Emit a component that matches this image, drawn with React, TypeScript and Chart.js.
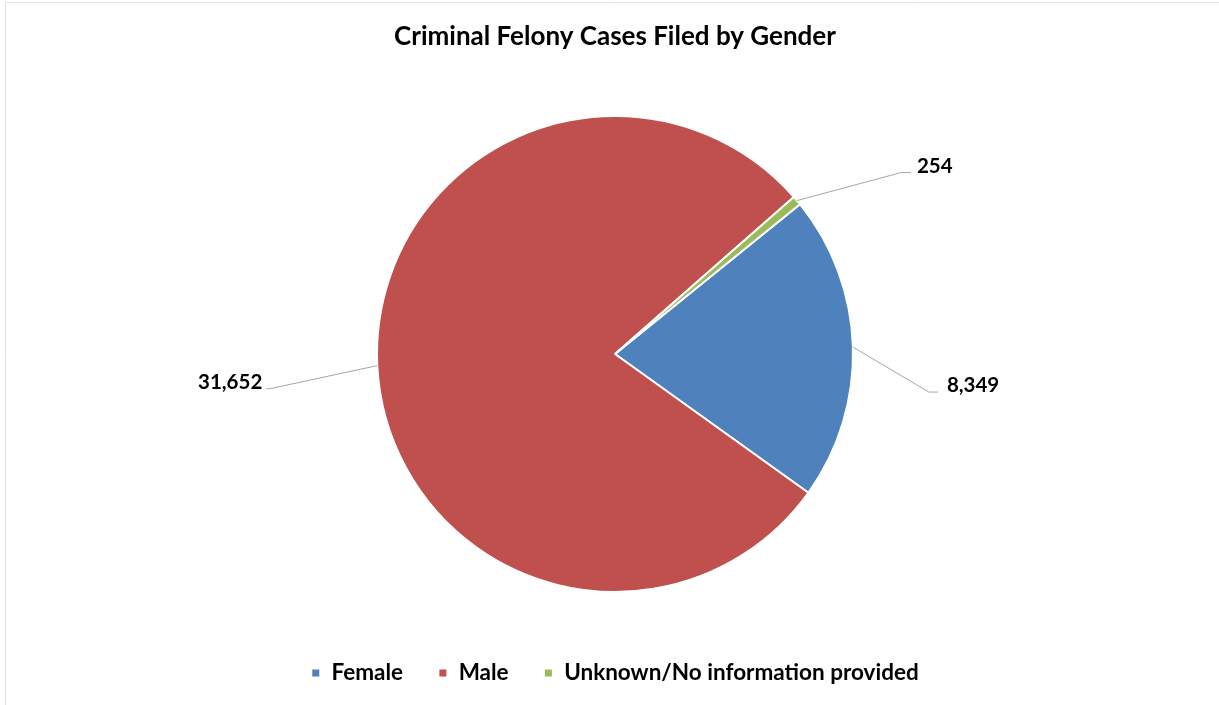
import React, { useEffect, useRef } from "react";
import { Chart, registerables } from "chart.js";

Chart.register(...registerables);

const categories = ["Female", "Male", "Unknown/No information provided"];
const caseCounts = [8349, 31652, 254];
const sliceColors = ["#4F81BD", "#C0504D", "#9BBB59"];
const titleText = "Criminal Felony Cases Filed by Gender";

// leader-line elbow offsets (px) from each slice's outer mid point, and horizontal tail length
const leaderOffsets = [
  { dx: 76, dy: 45, tail: 9, gap: 9 },
  { dx: -107, dy: 23, tail: -4, gap: 4 },
  { dx: 104, dy: -28, tail: 10, gap: 6 },
];

const FONT = "Lato, 'Open Sans', 'DejaVu Sans', sans-serif";

const labelPlugin = {
  id: "leaderLabels",
  afterDatasetsDraw(chart: any) {
    const ctx = chart.ctx;
    const meta = chart.getDatasetMeta(0);
    ctx.save();
    meta.data.forEach((arc: any, i: number) => {
      const p = arc.getProps(["x", "y", "startAngle", "endAngle", "outerRadius"], true);
      const mid = (p.startAngle + p.endAngle) / 2;
      const ex = p.x + Math.cos(mid) * p.outerRadius;
      const ey = p.y + Math.sin(mid) * p.outerRadius;
      const off = leaderOffsets[i];
      const bx = ex + off.dx;
      const by = ey + off.dy;
      const tx = bx + off.tail;
      ctx.strokeStyle = "#A6A6A6";
      ctx.lineWidth = 1;
      ctx.beginPath();
      ctx.moveTo(ex, ey);
      ctx.lineTo(bx, by);
      ctx.lineTo(tx, by);
      ctx.stroke();
      ctx.fillStyle = "#000000";
      ctx.font = `bold 20.5px ${FONT}`;
      ctx.textBaseline = "alphabetic";
      const txt = caseCounts[i].toLocaleString("en-US");
      if (off.tail >= 0) {
        ctx.textAlign = "left";
        ctx.fillText(txt, tx + off.gap, by);
      } else {
        ctx.textAlign = "right";
        ctx.fillText(txt, tx - off.gap, by);
      }
    });
    ctx.restore();
  },
};

const framePlugin = {
  id: "frame",
  beforeDraw(chart: any) {
    const ctx = chart.ctx;
    ctx.save();
    ctx.fillStyle = "#ffffff";
    ctx.fillRect(0, 0, chart.width, chart.height);
    ctx.strokeStyle = "#E3E3E3";
    ctx.lineWidth = 1;
    ctx.beginPath();
    ctx.moveTo(5.5, chart.height);
    ctx.lineTo(5.5, 2.5);
    ctx.lineTo(chart.width, 2.5);
    ctx.stroke();
    ctx.restore();
  },
};

export default function App() {
  const canvasRef = useRef<HTMLCanvasElement | null>(null);

  useEffect(() => {
    if (!canvasRef.current) return;
    const chart = new Chart(canvasRef.current, {
      type: "pie",
      data: {
        labels: categories,
        datasets: [
          {
            data: caseCounts,
            backgroundColor: sliceColors,
            borderColor: "#ffffff",
            borderWidth: 2,
          },
        ],
      },
      options: {
        animation: false,
        responsive: true,
        maintainAspectRatio: false,
        rotation: 51,
        radius: 238,
        layout: { padding: { left: 11, right: 0, top: 0, bottom: 10.75 } },
        plugins: {
          title: {
            display: true,
            text: titleText,
            color: "#000000",
            font: { family: FONT, size: 26, weight: "bold", lineHeight: 1.2 },
            padding: { top: 21.4, bottom: 28.9 },
          },
          legend: {
            position: "bottom",
            labels: {
              color: "#000000",
              font: { family: FONT, size: 22.5, weight: "bold" },
              boxWidth: 9,
              boxHeight: 9,
              padding: 35.25,
            },
          },
          tooltip: { enabled: false },
        },
      },
      plugins: [labelPlugin, framePlugin],
    });
    return () => chart.destroy();
  }, []);

  return (
    <div style={{ position: "absolute", left: 0, top: 0, width: 1219, height: 705 }}>
      <canvas ref={canvasRef} />
    </div>
  );
}
